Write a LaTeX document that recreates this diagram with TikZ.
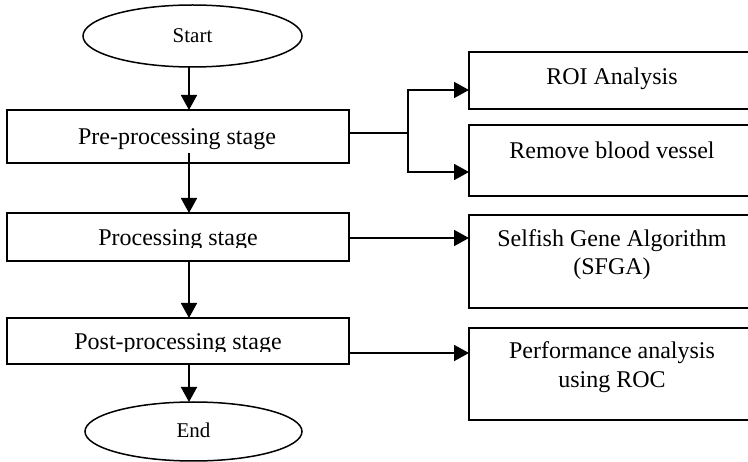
\documentclass[tikz,border=0pt]{standalone}
\usepackage{fontspec}
\setmainfont{Liberation Serif}
\usetikzlibrary{arrows.meta,shapes.geometric}

\tikzset{
  stagebox/.style={draw, line width=1.5pt, rectangle, inner sep=0pt, outer sep=0pt},
  termnode/.style={draw, line width=1.5pt, ellipse, inner sep=0pt, outer sep=0pt},
  lbl/.style={anchor=base, inner sep=0pt, font=\fontsize{24}{29}\selectfont},
  termlbl/.style={anchor=base, inner sep=0pt, font=\fontsize{21}{25}\selectfont},
  flow/.style={line width=1.8pt, -{Triangle[length=15pt,width=16pt]}},
  wire/.style={line width=1.8pt}
}

\begin{document}
\begin{tikzpicture}[x=1pt, y=-1pt]
\useasboundingbox (0,0) rectangle (748,462);

% terminals
\node[termnode, minimum width=219pt, minimum height=62pt] (start) at (192.5,36) {};
\node[termlbl] (starttext) at (192.5,43) {Start};
\node[termnode, minimum width=217pt, minimum height=59pt] (end) at (193.5,431.5) {};
\node[termlbl] (endtext) at (193.5,438) {End};

% main stages
\node[stagebox, minimum width=342pt, minimum height=53pt] (pre) at (178,136.5) {};
\node[lbl] (pretext) at (177,145) {Pre-processing stage};
\node[stagebox, minimum width=342pt, minimum height=48pt] (proc) at (178,237) {};
\begin{scope}
  \clip (7,200) rectangle (349,248);
  \node[lbl] (proctext) at (178,246) {Processing stage};
\end{scope}
\node[stagebox, minimum width=342pt, minimum height=46pt] (post) at (178,341) {};
\begin{scope}
  \clip (7,300) rectangle (349,352);
  \node[lbl] (posttext) at (178,350) {Post-processing stage};
\end{scope}

% side tasks
\node[stagebox, minimum width=286pt, minimum height=57pt] (roi) at (612,80.5) {};
\node[lbl] (roitext) at (612,85) {ROI Analysis};
\node[stagebox, minimum width=286pt, minimum height=71pt] (vessel) at (612,160.5) {};
\node[lbl] (vesseltext) at (612,159) {Remove blood vessel};
\node[stagebox, minimum width=286pt, minimum height=93pt] (sfga) at (612,261.5) {};
\node[lbl] (sfgatext1) at (612,247) {Selfish Gene Algorithm};
\node[lbl] (sfgatext2) at (612,275) {(SFGA)};
\node[stagebox, minimum width=286pt, minimum height=92pt] (perf) at (612,374) {};
\node[lbl] (perftext1) at (612,359) {Performance analysis};
\node[lbl] (perftext2) at (612,388) {using ROC};

% main flow
\coordinate (spine) at (189,0);
\draw[flow] (start.south -| spine) -- (pre.north -| spine);
\draw[flow] ([yshift=10pt]pre.south -| spine) -- (proc.north -| spine);
\draw[flow] (proc.south -| spine) -- (post.north -| spine);
\draw[flow] (post.south -| spine) -- (end.north -| spine);

% branch to the pre-processing tasks
\coordinate (split) at (408,133);
\coordinate (roiin) at (roi.west |- 0,90);
\coordinate (vesselin) at (vessel.west |- 0,172);
\draw[wire] (pre.east |- split) -- (split);
\draw[wire, line cap=rect] (split |- roiin) -- (split |- vesselin);
\draw[flow] (split |- roiin) -- (roiin);
\draw[flow] (split |- vesselin) -- (vesselin);

% links to the other tasks
\coordinate (procout) at (349,238);
\coordinate (postout) at (349,353);
\draw[flow] (procout) -- (procout -| sfga.west);
\draw[flow] (postout) -- (postout -| perf.west);
\end{tikzpicture}
\end{document}
